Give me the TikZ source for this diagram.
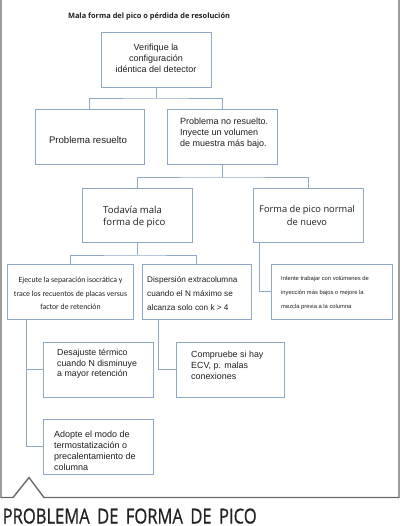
\documentclass[tikz,border=0pt]{standalone}
\usepackage{fontspec}
\usepackage{graphicx}
\setmainfont{Liberation Sans}
\newfontfamily\arialf{Liberation Sans}
\newfontfamily\opensans{Open Sans}
\newfontfamily\opensanshv{Open Sans}[FakeBold=0.8]
\newfontfamily\carlito{Carlito}
\definecolor{boxc}{RGB}{143,168,200}
\definecolor{framec}{RGB}{105,105,105}
\definecolor{txtc}{RGB}{30,30,30}
\tikzset{
  box/.style={draw=boxc, line width=0.9pt, inner sep=0pt, minimum height=55pt},
  conn/.style={draw=boxc, line width=0.9pt},
  txt/.style={inner sep=0pt, text=txtc},
}
\newcommand{\wsp}{\hspace{0.45em}}
\begin{document}
\begin{tikzpicture}[x=1pt,y=-1pt]
\useasboundingbox (0,0) rectangle (400,526);
% frame
\draw[framec, line width=1.4pt, line join=miter] (1,0) -- (1,497.5) -- (13,497.5) -- (29,477.5) -- (44,497.5) -- (399,497.5) -- (399,0);
% titles
\node[txt, font=\opensans\bfseries] (title) at (149,17) {\resizebox{162pt}{!}{Mala forma del pico o pérdida de resolución}};
\node[txt, anchor=base west, text={rgb,255:red,35;green,35;blue,35}] (bigtitle) at (2.5,523.5) {\resizebox{254pt}{15pt}{\opensanshv\fontsize{16}{18}\selectfont PROBLEMA\wsp DE\wsp FORMA\wsp DE\wsp PICO}};
% boxes
\node[box, minimum width=110pt] (b1) at (156,59.5) {};
\node[box, minimum width=109pt] (b2) at (89.5,136.5) {};
\node[box, minimum width=110pt] (b3) at (222,136.5) {};
\node[box, minimum width=110pt, minimum height=54pt] (b4) at (137,215) {};
\node[box, minimum width=110pt, minimum height=54pt] (b5) at (308,215) {};
\node[box, minimum width=126pt] (b6) at (70,291.5) {};
\node[box, minimum width=109pt] (b7) at (196.5,291.5) {};
\node[box, minimum width=121pt] (b8) at (331.5,291.5) {};
\node[box, minimum width=110pt] (b9) at (98,369.5) {};
\node[box, minimum width=108pt] (b11) at (230,369.5) {};
\node[box, minimum width=110pt] (b10) at (98,446.5) {};
% texts
\node[txt, align=center, font=\arialf\fontsize{9}{10.8}\selectfont] (t1) at (156,58.5) {Verifique la\\configuración\\idéntica del detector};
\node[txt, font=\arialf\fontsize{9.6}{11}\selectfont] (t2) at (88,140.5) {Problema resuelto};
\node[txt, anchor=west, align=left, font=\arialf\fontsize{9}{11}\selectfont] (t3) at (180,133) {Problema no resuelto.\\Inyecte un volumen\\de muestra más bajo.};
\node[txt, anchor=west, align=left, font=\opensans\fontsize{9.6}{12}\selectfont] (t4) at (103,216.5) {Todavía mala\\forma de pico};
\node[txt, align=center, font=\opensans\fontsize{9.3}{12.5}\selectfont] (t5) at (307,215.5) {Forma de pico normal\\de nuevo};
\node[txt, align=center, font=\carlito\fontsize{7.8}{13.5}\selectfont] (t6) at (70.5,293.5) {Ejecute la separación isocrática y\\trace los recuentos de placas versus\\factor de retención};
\node[txt, anchor=west, align=left, font=\arialf\fontsize{8.2}{14}\selectfont] (t7) at (147,294) {Dispersión extracolumna\\cuando el N máximo se\\alcanza solo con k > 4};
\node[txt, anchor=west, align=left, font=\arialf\fontsize{5.8}{14}\selectfont] (t8) at (281,293) {Intente trabajar con volúmenes de\\inyección más bajos o mejore la\\mezcla previa a la columna};
\node[txt, anchor=west, align=left, font=\arialf\fontsize{8.8}{10.7}\selectfont] (t9) at (57,363.7) {Desajuste térmico\\cuando N disminuye\\a mayor retención};
\node[txt, anchor=west, align=left, font=\arialf\fontsize{8.9}{11}\selectfont] (t11) at (191,365) {Compruebe si hay\\ECV, p. malas\\conexiones};
\node[txt, anchor=west, align=left, font=\arialf\fontsize{9}{11}\selectfont] (t10) at (54,450.5) {Adopte el modo de\\termostatización o\\precalentamiento de\\columna};
% junctions
\coordinate (j1) at (156,98);
\coordinate (j3) at (222,177);
\coordinate (j4) at (137,255);
\coordinate (k5) at ([xshift=7pt]b5.south west);
\coordinate (k6) at ([xshift=20pt]b6.south west);
\coordinate (k7) at ([xshift=17pt]b7.south west);
% connectors
\draw[conn] (b1.south) -- (j1);
\draw[conn] (b2.north) |- (j1) -| (b3.north);
\draw[conn] (b3.south) -- (j3);
\draw[conn] (b4.north) |- (j3) -| (b5.north);
\draw[conn] (b4.south) -- (j4);
\draw[conn] (b6.north) |- (j4) -| (b7.north);
\draw[conn] (k5) |- (b8.west);
\draw[conn] (k6) |- (b10.west);
\draw[conn] (b9.west) -- (b9.west -| k6);
\draw[conn] (k7) |- (b11.west);
\end{tikzpicture}
\end{document}
